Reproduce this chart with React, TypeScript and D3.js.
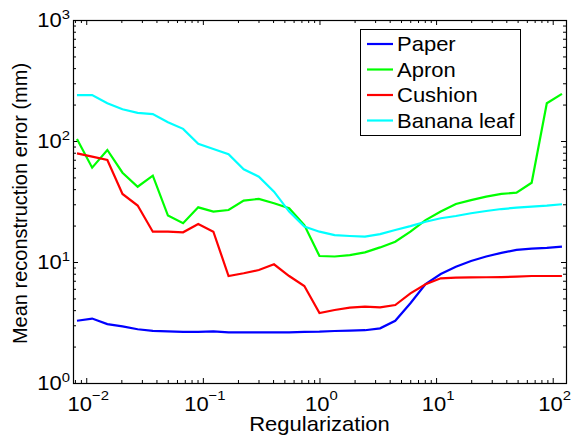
import React, { useEffect, useRef } from 'react';
import * as d3 from 'd3';

// regularization weights (log spaced sweep)
const regularization = [0.00833, 0.01124, 0.01517, 0.02046, 0.0276, 0.03723, 0.05019, 0.06769, 0.09128, 0.1231, 0.1661, 0.224, 0.3021, 0.4075, 0.5496, 0.7414, 1, 1.349, 1.82, 2.454, 3.31, 4.465, 6.023, 8.124, 10.96, 14.78, 19.93, 26.89, 36.27, 48.92, 65.98, 89, 120];

const paper = [3.27, 3.41, 3.07, 2.94, 2.78, 2.7, 2.67, 2.65, 2.65, 2.67, 2.62, 2.62, 2.62, 2.62, 2.62, 2.65, 2.66, 2.69, 2.71, 2.73, 2.83, 3.27, 4.56, 6.58, 7.96, 9.15, 10.2, 11.1, 11.9, 12.6, 12.9, 13.1, 13.4];
const apron = [104, 60.2, 84.3, 54.7, 41.9, 51.7, 24.2, 20.9, 28.3, 26.1, 26.9, 32.2, 33.2, 30.6, 27.8, 20.2, 11.2, 11.1, 11.4, 12.0, 13.2, 14.7, 17.8, 22.2, 26.1, 30.2, 32.5, 34.7, 36.5, 37.4, 45.2, 205, 245];
const cushion = [79.1, 74.2, 69.7, 36.5, 29.3, 17.8, 17.8, 17.6, 20.6, 17.8, 7.66, 8.07, 8.59, 9.57, 7.66, 6.33, 3.79, 4.01, 4.19, 4.27, 4.22, 4.41, 5.51, 6.54, 7.33, 7.42, 7.45, 7.48, 7.5, 7.56, 7.66, 7.66, 7.66];
const bananaLeaf = [239, 240, 205, 183, 171, 167, 143, 126, 95, 86, 77.6, 58.3, 50.7, 38.1, 26.1, 19.6, 17.8, 16.7, 16.4, 16.2, 17.0, 18.4, 19.8, 21.5, 23.0, 24.0, 25.3, 26.4, 27.4, 28.1, 28.7, 29.2, 30.0];

const seriesNames = ['Paper', 'Apron', 'Cushion', 'Banana leaf'];
const seriesValues = [paper, apron, cushion, bananaLeaf];
const seriesColors = ['#0000ff', '#00ff00', '#ff0000', '#00ffff'];

const xMajor = [0.01, 0.1, 1, 10, 100];
const xMajorExp = ['\u22122', '\u22121', '0', '1', '2'];
const yMajor = [1, 10, 100, 1000];
const yMajorExp = ['0', '1', '2', '3'];

const FONT = '"Liberation Sans", Arial, Helvetica, sans-serif';
const SX = 1.1; // horizontal text stretch seen in the original figure

const App = () => {
    const svgRef = useRef(null);

    useEffect(() => {
        const width = 571;
        const height = 435;
        const margin = { top: 20, right: 5, bottom: 52, left: 73 };

        const svg = d3.select(svgRef.current)
            .attr('width', width)
            .attr('height', height);

        svg.selectAll('*').remove();

        svg.append('rect').attr('width', width).attr('height', height).attr('fill', '#fff');

        const x = d3.scaleLog()
            .domain([0.0077, 130])
            .range([margin.left, width - margin.right]);
        const y = d3.scaleLog()
            .domain([1, 1000])
            .range([height - margin.bottom, margin.top]);

        const [x0, x1] = x.range();
        const [y0, y1] = y.range();

        // minor ticks 2..9 for each decade in domain
        const minorOf = (scale, lo, hi) => {
            const out = [];
            const [d0, d1] = scale.domain();
            for (let e = lo; e <= hi; e++) {
                for (let m = 2; m <= 9; m++) {
                    const v = m * Math.pow(10, e);
                    if (v >= d0 && v <= d1) out.push(v);
                }
            }
            return out;
        };
        const xMinor = minorOf(x, -3, 2);
        const yMinor = minorOf(y, 0, 2);

        const axisG = svg.append('g');
        const addTicks = (axis, transform) => {
            const g = axisG.append('g').attr('transform', transform).call(axis);
            g.select('.domain').remove();
            g.selectAll('line').attr('stroke', '#000').attr('stroke-width', 1);
            g.selectAll('text').remove();
        };
        const fmt = () => '';
        addTicks(d3.axisBottom(x).tickValues(xMajor).tickSize(-5).tickSizeOuter(0).tickFormat(fmt), `translate(0,${y0})`);
        addTicks(d3.axisBottom(x).tickValues(xMinor).tickSize(-3).tickSizeOuter(0).tickFormat(fmt), `translate(0,${y0})`);
        addTicks(d3.axisTop(x).tickValues(xMajor).tickSize(-5).tickSizeOuter(0).tickFormat(fmt), `translate(0,${y1})`);
        addTicks(d3.axisTop(x).tickValues(xMinor).tickSize(-3).tickSizeOuter(0).tickFormat(fmt), `translate(0,${y1})`);
        addTicks(d3.axisLeft(y).tickValues(yMajor).tickSize(-5).tickSizeOuter(0).tickFormat(fmt), `translate(${x0},0)`);
        addTicks(d3.axisLeft(y).tickValues(yMinor).tickSize(-3).tickSizeOuter(0).tickFormat(fmt), `translate(${x0},0)`);
        addTicks(d3.axisRight(y).tickValues(yMajor).tickSize(-5).tickSizeOuter(0).tickFormat(fmt), `translate(${x1},0)`);
        addTicks(d3.axisRight(y).tickValues(yMinor).tickSize(-3).tickSizeOuter(0).tickFormat(fmt), `translate(${x1},0)`);

        // data lines
        const line = d3.line()
            .x((d, i) => x(regularization[i]))
            .y(d => y(d));

        seriesValues.forEach((vals, k) => {
            svg.append('path')
                .datum(vals)
                .attr('d', line)
                .attr('fill', 'none')
                .attr('stroke', seriesColors[k])
                .attr('stroke-width', 2.2);
        });

        // box
        svg.append('rect')
            .attr('x', x0 + 0.5)
            .attr('y', y1 + 0.5)
            .attr('width', x1 - x0)
            .attr('height', y0 - y1)
            .attr('fill', 'none')
            .attr('stroke', '#000')
            .attr('stroke-width', 1.2);

        // horizontal text, slightly stretched like the source
        const hText = (px, py, anchor, size) => svg.append('text')
            .attr('transform', `translate(${px},${py}) scale(${SX},1)`)
            .attr('text-anchor', anchor)
            .attr('font-family', FONT)
            .attr('font-size', size);

        // tick labels with superscript exponents
        xMajor.forEach((v, i) => {
            const t = hText(x(v) + 2, y0 + 28, 'middle', 20);
            t.append('tspan').text('10');
            t.append('tspan').attr('dy', -11).attr('font-size', 13.5).text(xMajorExp[i]);
        });
        yMajor.forEach((v, i) => {
            const t = hText(x0 - 3, y(v) + 7, 'end', 20);
            t.append('tspan').text('10');
            t.append('tspan').attr('dy', -8).attr('font-size', 13.5).text(yMajorExp[i]);
        });

        // axis labels
        hText((x0 + x1) / 2, 431, 'middle', 20).text('Regularization');

        svg.append('text')
            .attr('transform', `translate(27,${(y0 + y1) / 2 + 2}) rotate(-90)`)
            .attr('text-anchor', 'middle')
            .attr('font-family', FONT)
            .attr('font-size', 20)
            .text('Mean reconstruction error (mm)');

        // legend
        const lg = svg.append('g');
        lg.append('rect')
            .attr('x', 360.5)
            .attr('y', 29.5)
            .attr('width', 160)
            .attr('height', 106)
            .attr('fill', '#fff')
            .attr('stroke', '#000')
            .attr('stroke-width', 1);

        seriesNames.forEach((name, k) => {
            const cy = 44 + k * 25.5;
            lg.append('line')
                .attr('x1', 367).attr('x2', 393)
                .attr('y1', cy).attr('y2', cy)
                .attr('stroke', seriesColors[k])
                .attr('stroke-width', 2.2);
            hText(397, cy + 7, 'start', 20).text(name);
        });
    }, []);

    return (
        <React.Fragment>
            <svg ref={svgRef} style={{ position: 'absolute', left: 0, top: 0 }} />
        </React.Fragment>
    );
};

export default App;
